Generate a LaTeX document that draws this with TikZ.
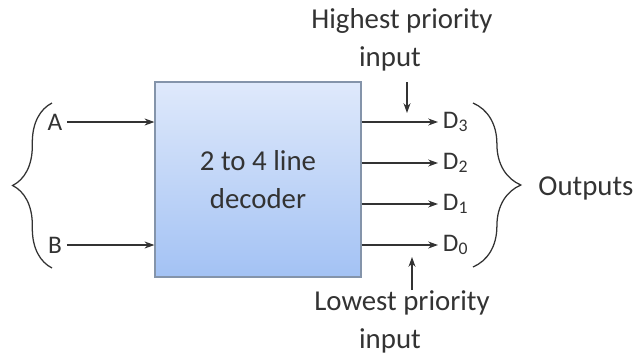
\documentclass[tikz,border=0pt]{standalone}
\usepackage{fontspec}
\setmainfont{Carlito}
\usetikzlibrary{decorations.pathreplacing,arrows.meta}
\definecolor{boxtop}{HTML}{DFE9FB}
\definecolor{boxbot}{HTML}{A3C2F4}
\definecolor{boxline}{HTML}{8494AA}
\definecolor{ink}{HTML}{333333}
\tikzset{
  lbl/.style={text=ink, font=\fontsize{20.5}{27}\selectfont},
  pin/.style={text=ink, font=\fontsize{18}{22}\selectfont},
  wire/.style={-{Stealth[length=7pt,width=5pt]}, line width=0.9pt, ink},
  curly/.style={decorate, decoration={brace, amplitude=#1}, line width=0.9pt, ink}
}
\begin{document}
\begin{tikzpicture}[x=0.025cm, y=-0.025cm]
        \useasboundingbox (0,0) rectangle (639,358);

        \node [draw=boxline, line width=0.8pt, top color=boxtop, bottom color=boxbot,
               minimum width=5.15cm, minimum height=4.875cm, lbl, align=center] (dec) at (258,179.5) {2 to 4 line\\decoder};

        \node [pin] (A) at (55,122) {A};
        \node [pin] (B) at (55,245) {B};

        \node [pin, anchor=west] (D3) at (438,122) {D\textsubscript{3}};
        \node [pin, anchor=west] (D2) at (438,163) {D\textsubscript{2}};
        \node [pin, anchor=west] (D1) at (438,204) {D\textsubscript{1}};
        \node [pin, anchor=west] (D0) at (438,245) {D\textsubscript{0}};

        \node [lbl] (out) at (586,188) {Outputs};
        \node [lbl, align=center] (hi) at (402,40) {Highest priority\\input\hspace*{0.6cm}};
        \node [lbl, align=center] (lo) at (402,322) {Lowest priority\\input\hspace*{0.6cm}};

        \coordinate (hitip) at (407,113);
        \coordinate (hitop) at (407,82);
        \coordinate (lotip) at (412,257);
        \coordinate (lobot) at (412,290);

        \draw (A) edge[wire] (A -| dec.west);
        \draw (B) edge[wire] (B -| dec.west);

        \draw (dec.east |- D3) edge[wire] (D3);
        \draw (dec.east |- D2) edge[wire] (D2);
        \draw (dec.east |- D1) edge[wire] (D1);
        \draw (dec.east |- D0) edge[wire] (D0);

        \draw (hitop) edge[wire] (hitip);
        \draw (lobot) edge[wire] (lotip);

        \draw [curly=28pt] (52,268) -- (52,103);
        \draw [curly=34pt] (473,103) -- (473,267);

    \end{tikzpicture}
\end{document}
